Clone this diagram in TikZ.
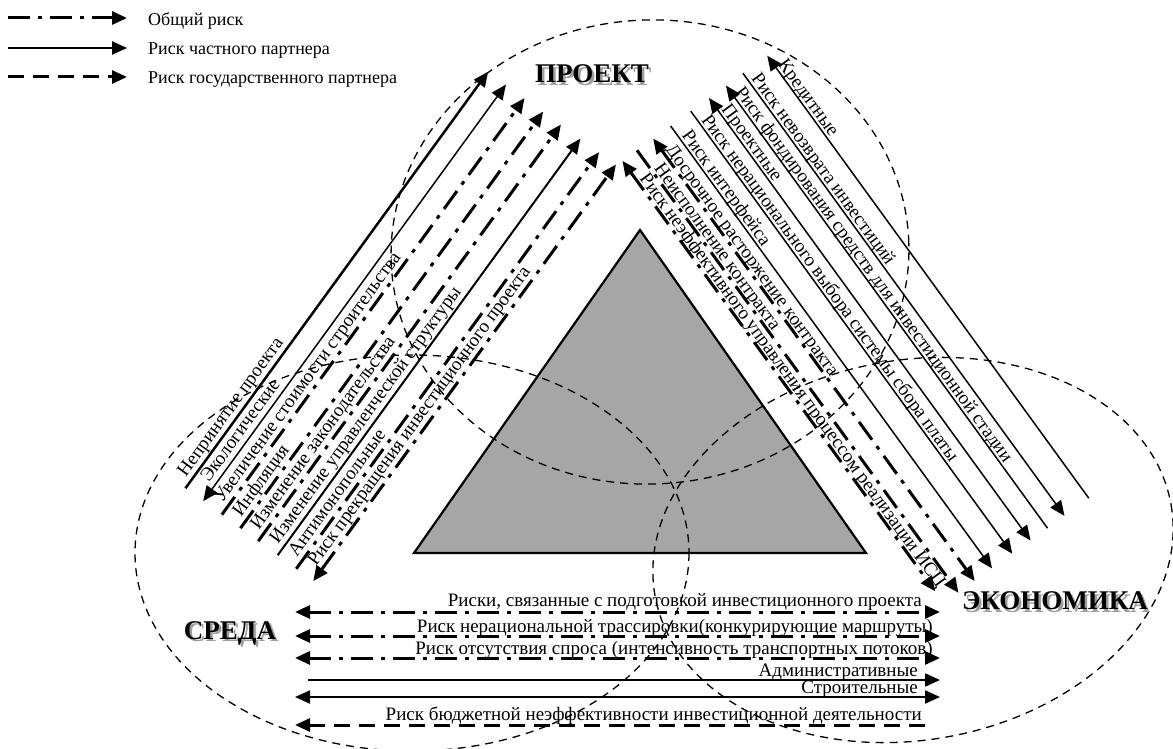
\documentclass[tikz,border=0pt]{standalone}
\usepackage{fontspec}
\setmainfont{Liberation Serif}
\usetikzlibrary{arrows.meta}
\definecolor{trifill}{HTML}{A6A6A6}
\begin{document}
\begin{tikzpicture}[x=1pt,y=-1pt,
  >={Triangle[length=15pt,width=13pt]},
  common/.style={line width=3pt,dash pattern=on 22pt off 8pt on 4pt off 8pt},
  privthick/.style={line width=2.5pt},
  priv/.style={line width=1.5pt},
  statep/.style={line width=3pt,dash pattern=on 16pt off 9pt},
  zone/.style={line width=1.3pt,dash pattern=on 8pt off 6pt},
  lab/.style={font=\fontsize{19}{19}\selectfont,inner sep=0pt},
  leg/.style={font=\fontsize{18}{18}\selectfont,inner sep=0pt,anchor=west},
  ttl/.style={font=\fontsize{27}{27}\selectfont\bfseries,inner sep=0pt},
  shd/.style={ttl,text=black!38},
]
\useasboundingbox (0,0) rectangle (1173,749);

% ---------- legend ----------
\coordinate (g1a) at (8,18);  \coordinate (g1b) at (127,18);
\coordinate (g2a) at (8,48);  \coordinate (g2b) at (127,48);
\coordinate (g3a) at (8,77);  \coordinate (g3b) at (127,77);
\draw[common,->] (g1a) -- (g1b);
\draw[privthick,->] (g2a) -- (g2b);
\draw[statep,->] (g3a) -- (g3b);
\node[leg] (g1t) at (148,21) {Общий риск};
\node[leg] (g2t) at (148,51) {Риск частного партнера};
\node[leg] (g3t) at (148,80) {Риск государственного партнера};

% ---------- triangle ----------
\coordinate (A) at (640,230); \coordinate (B) at (414,553); \coordinate (C) at (866,553);
\draw[fill=trifill,line width=2.2pt] (A) -- (B) -- (C) -- cycle;

% ---------- zones ----------
\draw[zone,rotate around={3:(650,252)}] (650,252) ellipse [x radius=259, y radius=232];
\draw[zone] (412,553) ellipse [x radius=277, y radius=198];
\draw[zone,rotate around={10:(913,550)}] (913,550) ellipse [x radius=262, y radius=190];

% ---------- titles (with soft shadow) ----------
\node[shd] (proektS) at (594.5,76.5) {ПРОЕКТ};
\node[ttl] (proekt) at (592,74) {ПРОЕКТ};
\node[shd] (sredaS) at (232.5,635.5) {СРЕДА};
\node[ttl] (sreda) at (230,633) {СРЕДА};
\node[shd] (econS) at (1057.5,603.5) {ЭКОНОМИКА};
\node[ttl] (econ) at (1055,601) {ЭКОНОМИКА};

% ---------- left group (rotated frame: s along line, t across) ----------
\begin{scope}[rotate=54]
  \coordinate (L1a) at (-286,437);   \coordinate (L1b) at (229,437);   \coordinate (L1s) at (-277,431);
  \coordinate (L2a) at (-286,459);   \coordinate (L2b) at (229,459);   \coordinate (L2s) at (-268,453);
  \coordinate (L3a) at (-286,482);   \coordinate (L3b) at (229,482);   \coordinate (L3s) at (-277,476);
  \coordinate (L4a) at (-286,505);   \coordinate (L4b) at (229,505);   \coordinate (L4s) at (-277,499);
  \coordinate (L5a) at (-286,527);   \coordinate (L5b) at (229,527);   \coordinate (L5s) at (-277,521);
  \coordinate (L6a) at (-286,551);   \coordinate (L6b) at (229,551);   \coordinate (L6s) at (-277,545);
  \coordinate (L7a) at (-286,574);   \coordinate (L7b) at (229,574);   \coordinate (L7s) at (-277,568);
  \coordinate (L8a) at (-286,595);   \coordinate (L8b) at (229,595);   \coordinate (L8s) at (-273,589);
\end{scope}
\draw[privthick,->] (L1a) -- (L1b);
\draw[priv,<->] (L2a) -- (L2b);
\draw[common,->] (L3a) -- (L3b);
\draw[common,->] (L4a) -- (L4b);
\draw[common,->] (L5a) -- (L5b);
\draw[line width=2pt,->] (L6a) -- (L6b);
\draw[common,->] (L7a) -- (L7b);
\draw[common,<->] (L8a) -- (L8b);
\node[lab,rotate=54,anchor=base west] (L1t) at (L1s) {Непринятие проекта};
\node[lab,rotate=54,anchor=base west] (L2t) at (L2s) {Экологические};
\node[lab,rotate=54,anchor=base west] (L3t) at (L3s) {Увеличение стоимости строительства};
\node[lab,rotate=54,anchor=base west] (L4t) at (L4s) {Инфляция};
\node[lab,rotate=54,anchor=base west] (L5t) at (L5s) {Изменение законодательства};
\node[lab,rotate=54,anchor=base west] (L6t) at (L6s) {Изменение управленческой структуры};
\node[lab,rotate=54,anchor=base west] (L7t) at (L7s) {Антимонопольные};
\node[lab,rotate=54,anchor=base west] (L8t) at (L8s) {Риск прекращения инвестиционного проекта};

% ---------- right group ----------
\begin{scope}[rotate=-54]
  \coordinate (R1a) at (496,-409);   \coordinate (R1b) at (1028,-409);  \coordinate (R1s) at (520,-412);
  \coordinate (R2a) at (496,-427);   \coordinate (R2b) at (1043,-427);  \coordinate (R2s) at (520,-430);
  \coordinate (R3a) at (496,-447);   \coordinate (R3b) at (1043,-447);  \coordinate (R3s) at (512,-450);
  \coordinate (R4a) at (496,-468.5); \coordinate (R4b) at (1043,-468.5);\coordinate (R4s) at (510,-471.5);
  \coordinate (R5a) at (496,-493.5); \coordinate (R5b) at (1043,-493.5);\coordinate (R5s) at (509,-496.5);
  \coordinate (R6a) at (496,-516);   \coordinate (R6b) at (1043,-516);  \coordinate (R6s) at (512,-519);
  \coordinate (R7a) at (496,-537);   \coordinate (R7b) at (1043,-537);  \coordinate (R7s) at (506,-540);
  \coordinate (R8a) at (496,-558);   \coordinate (R8b) at (1043,-558);  \coordinate (R8s) at (505,-561);
  \coordinate (R9a) at (496,-588);   \coordinate (R9b) at (1043,-588);  \coordinate (R9s) at (509,-591);
\end{scope}
\draw[common,<->] (R1a) -- (R1b);
\draw[common,->] (R2a) -- (R2b);
\draw[common,<->] (R3a) -- (R3b);
\draw[priv,->] (R4a) -- (R4b);
\draw[priv,->] (R5a) -- (R5b);
\draw[priv,<->] (R6a) -- (R6b);
\draw[priv,<-] (R7a) -- (R7b);
\draw[priv,->] (R8a) -- (R8b);
\draw[priv,<-] (R9a) -- (R9b);
\node[lab,rotate=-54,anchor=base west] (R1t) at (R1s) {Риск неэффективного управления процессом реализации ИСЦ};
\node[lab,rotate=-54,anchor=base west] (R2t) at (R2s) {Неисполнение контракта};
\node[lab,rotate=-54,anchor=base west] (R3t) at (R3s) {Досрочное расторжение контракта};
\node[lab,rotate=-54,anchor=base west] (R4t) at (R4s) {Риск интерфейса};
\node[lab,rotate=-54,anchor=base west] (R5t) at (R5s) {Риск нерационального выбора системы сбора платы};
\node[lab,rotate=-54,anchor=base west] (R6t) at (R6s) {Проектные};
\node[lab,rotate=-54,anchor=base west] (R7t) at (R7s) {Риск фондирования средств для инвестиционной стадии};
\node[lab,rotate=-54,anchor=base west] (R8t) at (R8s) {Риск невозврата инвестиций};
\node[lab,rotate=-54,anchor=base west] (R9t) at (R9s) {Кредитные};

% ---------- bottom group ----------
\coordinate (B1a) at (295,612); \coordinate (B1b) at (940,612);
\coordinate (B2a) at (295,636); \coordinate (B2b) at (940,636);
\coordinate (B3a) at (295,658); \coordinate (B3b) at (940,658);
\coordinate (B4a) at (308,680); \coordinate (B4b) at (940,680);
\coordinate (B5a) at (295,697); \coordinate (B5b) at (940,697);
\coordinate (B6a) at (295,725); \coordinate (B6b) at (925,725);
\draw[common,<->] (B1a) -- (B1b);
\draw[common,<->] (B2a) -- (B2b);
\draw[common,<->] (B3a) -- (B3b);
\draw[line width=2pt,->] (B4a) -- (B4b);
\draw[line width=2pt,<->] (B5a) -- (B5b);
\draw[statep,<-] (B6a) -- (B6b);
\node[lab,anchor=base east] (B1t) at (922,606) {Риски, связанные с подготовкой инвестиционного проекта};
\node[lab,anchor=base east] (B2t) at (933,632) {Риск нерациональной трассировки(конкурирующие маршруты)};
\node[lab,anchor=base east] (B3t) at (933,654) {Риск отсутствия спроса (интенсивность транспортных потоков)};
\node[lab,anchor=base east] (B4t) at (918,676) {Административные};
\node[lab,anchor=base east] (B5t) at (918,693) {Строительные};
\node[lab,anchor=base east] (B6t) at (922,720) {Риск бюджетной неэффективности инвестиционной деятельности};
\end{tikzpicture}
\end{document}
